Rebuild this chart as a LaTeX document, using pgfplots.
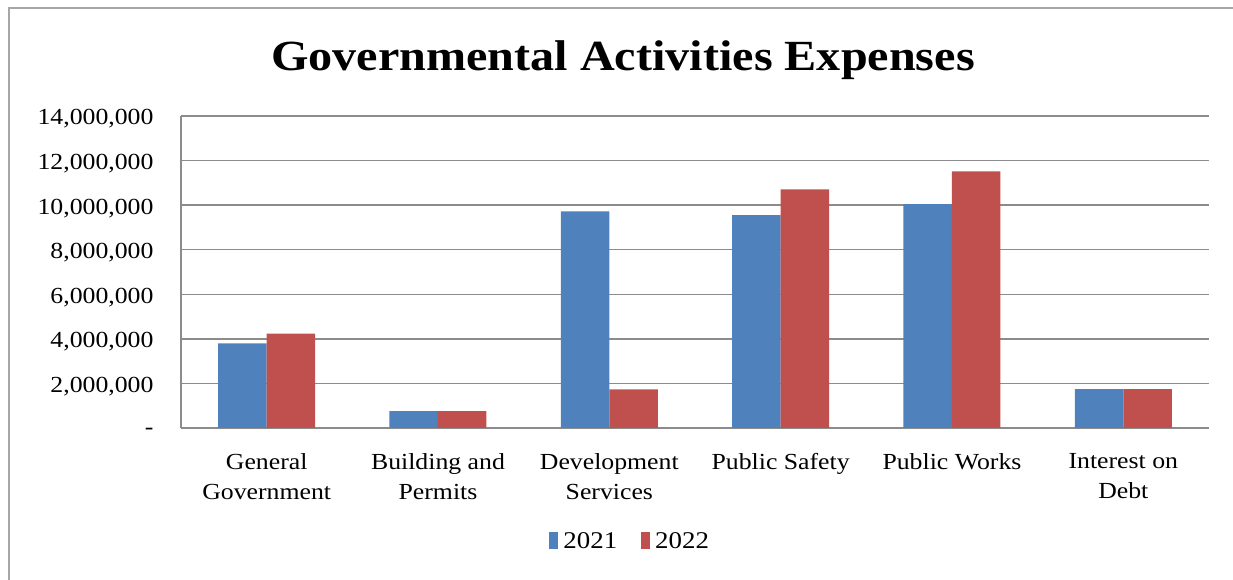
\documentclass[border=0pt]{standalone}
\usepackage{fontspec}
\setmainfont{Liberation Serif}[FakeStretch=1.12]
\usepackage{pgfplots}
\pgfplotsset{compat=1.18}
\definecolor{c2021}{HTML}{4F81BD}
\definecolor{c2022}{HTML}{C0504D}
\definecolor{gridc}{HTML}{8C8C8C}
\definecolor{framec}{HTML}{A6A6A6}
\begin{document}
\begin{tikzpicture}[x=1bp,y=1bp]
\useasboundingbox (0,0) rectangle (1233,580);
\draw[line width=2bp, color=framec] (9,0) -- (9,572) -- (1233,572);
\begin{axis}[
  at={(181bp,152bp)}, anchor=south west,
  width=1028bp, height=312bp, scale only axis,
  xmin=-0.5, xmax=5.5, ymin=0, ymax=14000000,
  ybar=0pt, bar width=48.5bp,
  axis x line=bottom, axis y line=left,
  axis line style={draw=gridc, line width=1.5bp, -},
  ymajorgrids, grid style={draw=gridc, line width=1.5bp},
  major tick length=0pt,
  scaled y ticks=false,
  xtick={0,1,2,3,4,5},
  xticklabels={{General\\Government},{Building and\\Permits},{Development\\Services},{Public Safety},{Public Works},{Interest on\\Debt}},
  ytick={0,2000000,4000000,6000000,8000000,10000000,12000000,14000000},
  yticklabels={{-},{2,000,000},{4,000,000},{6,000,000},{8,000,000},{10,000,000},{12,000,000},{14,000,000}},
  tick label style={font=\fontsize{23bp}{30bp}\selectfont},
  xticklabel style={align=center, anchor=north, yshift=-22bp},
  yticklabel style={anchor=east, xshift=-24bp, yshift=-3bp},
  legend style={at={(0.437,-0.362)}, anchor=center, legend columns=2, draw=none,
    font=\fontsize{24bp}{26bp}\selectfont,
    /tikz/every odd column/.append style={column sep=3bp},
    /tikz/every even column/.append style={column sep=22bp}},
  legend image code/.code={\fill[#1] (0bp,-8bp) rectangle (9bp,9bp);},
]
\addplot[fill=c2021, draw=none] coordinates {(0,3800000) (1,760000) (2,9720000) (3,9550000) (4,10040000) (5,1740000)};
\addplot[fill=c2022, draw=none] coordinates {(0,4230000) (1,760000) (2,1730000) (3,10710000) (4,11510000) (5,1740000)};
\legend{2021,2022}
\end{axis}
\node[font=\fontsize{43bp}{50bp}\selectfont\bfseries] at (623,520) {Governmental Activities Expenses};
\end{tikzpicture}
\end{document}
